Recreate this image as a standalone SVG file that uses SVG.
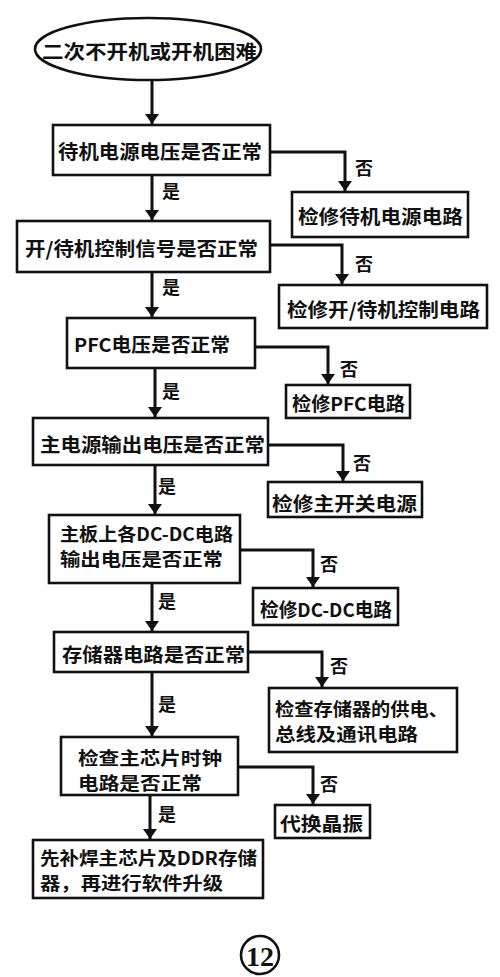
<svg xmlns="http://www.w3.org/2000/svg" width="500" height="977" viewBox="0 0 500 977">
<style>
.n{fill:#fff;stroke:#111;stroke-width:2.6}
.t{font-family:"Noto Sans CJK SC","Noto Sans",sans-serif;font-weight:700;font-size:19px;fill:#111;dominant-baseline:central}
.t2{font-family:"Noto Sans CJK SC","Noto Sans",sans-serif;font-weight:700;font-size:18px;fill:#111;dominant-baseline:central}
.l{font-family:"Noto Sans CJK SC","Noto Sans",sans-serif;font-weight:700;font-size:18px;fill:#111;dominant-baseline:central}
.c{fill:none;stroke:#111;stroke-width:3}
</style>
<defs>
<marker id="ah" viewBox="0 0 10 14" refX="10" refY="7" markerWidth="10" markerHeight="14" markerUnits="userSpaceOnUse" orient="auto">
<path d="M0,0 L10,7 L0,14 Z" fill="#111"/>
</marker>
</defs>
<rect width="500" height="977" fill="#fff"/>
<g id="connectors">
<path class="c" d="M152,80 V124" marker-end="url(#ah)"/>
<path class="c" d="M152,175 V220" marker-end="url(#ah)"/>
<path class="c" d="M270,152 H345 V191" marker-end="url(#ah)"/>
<path class="c" d="M152,272 V317" marker-end="url(#ah)"/>
<path class="c" d="M270,245 H342 V284" marker-end="url(#ah)"/>
<path class="c" d="M155,368 V417" marker-end="url(#ah)"/>
<path class="c" d="M255,347 H328 V384" marker-end="url(#ah)"/>
<path class="c" d="M155,465 V514" marker-end="url(#ah)"/>
<path class="c" d="M268,445 H343 V481" marker-end="url(#ah)"/>
<path class="c" d="M152,583 V631" marker-end="url(#ah)"/>
<path class="c" d="M240,550 H313 V587" marker-end="url(#ah)"/>
<path class="c" d="M152,672 V736" marker-end="url(#ah)"/>
<path class="c" d="M248,652 H322 V687" marker-end="url(#ah)"/>
<path class="c" d="M150,795 V839" marker-end="url(#ah)"/>
<path class="c" d="M238,767 H313 V804" marker-end="url(#ah)"/>
<text class="l" x="162" y="190">是</text>
<text class="l" x="355" y="167">否</text>
<text class="l" x="162" y="286">是</text>
<text class="l" x="355" y="263">否</text>
<text class="l" x="162" y="390">是</text>
<text class="l" x="340" y="368">否</text>
<text class="l" x="158" y="485">是</text>
<text class="l" x="353" y="462">否</text>
<text class="l" x="158" y="600">是</text>
<text class="l" x="320" y="563">否</text>
<text class="l" x="158" y="703">是</text>
<text class="l" x="330" y="665">否</text>
<text class="l" x="158" y="813">是</text>
<text class="l" x="320" y="783">否</text>
</g>
<g id="start">
<ellipse class="n" cx="148" cy="49" rx="113" ry="31"/>
<text class="t" x="42" y="50" textLength="215" lengthAdjust="spacingAndGlyphs">二次不开机或开机困难</text>
</g>
<g id="q1">
<rect class="n" x="53" y="125" width="217" height="50"/>
<text class="t" x="58" y="150" textLength="204" lengthAdjust="spacingAndGlyphs">待机电源电压是否正常</text>
</g>
<g id="a1">
<rect class="n" x="292" y="192" width="176" height="45"/>
<text class="t" x="298" y="215" textLength="165" lengthAdjust="spacingAndGlyphs">检修待机电源电路</text>
</g>
<g id="q2">
<rect class="n" x="17" y="221" width="253" height="51"/>
<text class="t" x="25" y="247" textLength="233" lengthAdjust="spacingAndGlyphs">开/待机控制信号是否正常</text>
</g>
<g id="a2">
<rect class="n" x="279" y="285" width="208" height="43"/>
<text class="t" x="287" y="308" textLength="193" lengthAdjust="spacingAndGlyphs">检修开/待机控制电路</text>
</g>
<g id="q3">
<rect class="n" x="67" y="318" width="188" height="50"/>
<text class="t" x="74" y="343" textLength="156" lengthAdjust="spacingAndGlyphs">PFC电压是否正常</text>
</g>
<g id="a3">
<rect class="n" x="286" y="385" width="124" height="33"/>
<text class="t" x="292" y="402" textLength="113" lengthAdjust="spacingAndGlyphs">检修PFC电路</text>
</g>
<g id="q4">
<rect class="n" x="33" y="418" width="235" height="47"/>
<text class="t" x="40" y="443" textLength="225" lengthAdjust="spacingAndGlyphs">主电源输出电压是否正常</text>
</g>
<g id="a4">
<rect class="n" x="268" y="482" width="154" height="35"/>
<text class="t" x="272" y="502" textLength="145" lengthAdjust="spacingAndGlyphs">检修主开关电源</text>
</g>
<g id="q5">
<rect class="n" x="49" y="515" width="191" height="68"/>
<text class="t2" x="60" y="533" textLength="173" lengthAdjust="spacingAndGlyphs">主板上各DC-DC电路</text>
<text class="t2" x="60" y="558" textLength="163" lengthAdjust="spacingAndGlyphs">输出电压是否正常</text>
</g>
<g id="a5">
<rect class="n" x="253" y="588" width="145" height="37"/>
<text class="t" x="260" y="608" textLength="132" lengthAdjust="spacingAndGlyphs">检修DC-DC电路</text>
</g>
<g id="q6">
<rect class="n" x="54" y="632" width="194" height="40"/>
<text class="t" x="62" y="653" textLength="183" lengthAdjust="spacingAndGlyphs">存储器电路是否正常</text>
</g>
<g id="a6">
<rect class="n" x="269" y="688" width="188" height="64"/>
<text class="t2" x="275" y="708" textLength="173" lengthAdjust="spacingAndGlyphs">检查存储器的供电、</text>
<text class="t2" x="275" y="733" textLength="143" lengthAdjust="spacingAndGlyphs">总线及通讯电路</text>
</g>
<g id="q7">
<rect class="n" x="61" y="737" width="177" height="58"/>
<text class="t2" x="78" y="757" textLength="144" lengthAdjust="spacingAndGlyphs">检查主芯片时钟</text>
<text class="t2" x="78" y="782" textLength="124" lengthAdjust="spacingAndGlyphs">电路是否正常</text>
</g>
<g id="a7">
<rect class="n" x="275" y="805" width="95" height="33"/>
<text class="t" x="280" y="822" textLength="83" lengthAdjust="spacingAndGlyphs">代换晶振</text>
</g>
<g id="end">
<rect class="n" x="33" y="840" width="230" height="58"/>
<text class="t2" x="40" y="857" textLength="217" lengthAdjust="spacingAndGlyphs">先补焊主芯片及DDR存储</text>
<text class="t2" x="40" y="882" textLength="183" lengthAdjust="spacingAndGlyphs">器，再进行软件升级</text>
</g>
<g id="figno">
<circle cx="260" cy="955" r="19" fill="none" stroke="#111" stroke-width="2.6"/>
<text x="260" y="956" font-family="Liberation Serif,serif" font-size="28" font-weight="700" text-anchor="middle" dominant-baseline="central" fill="#111">12</text>
</g>
</svg>
